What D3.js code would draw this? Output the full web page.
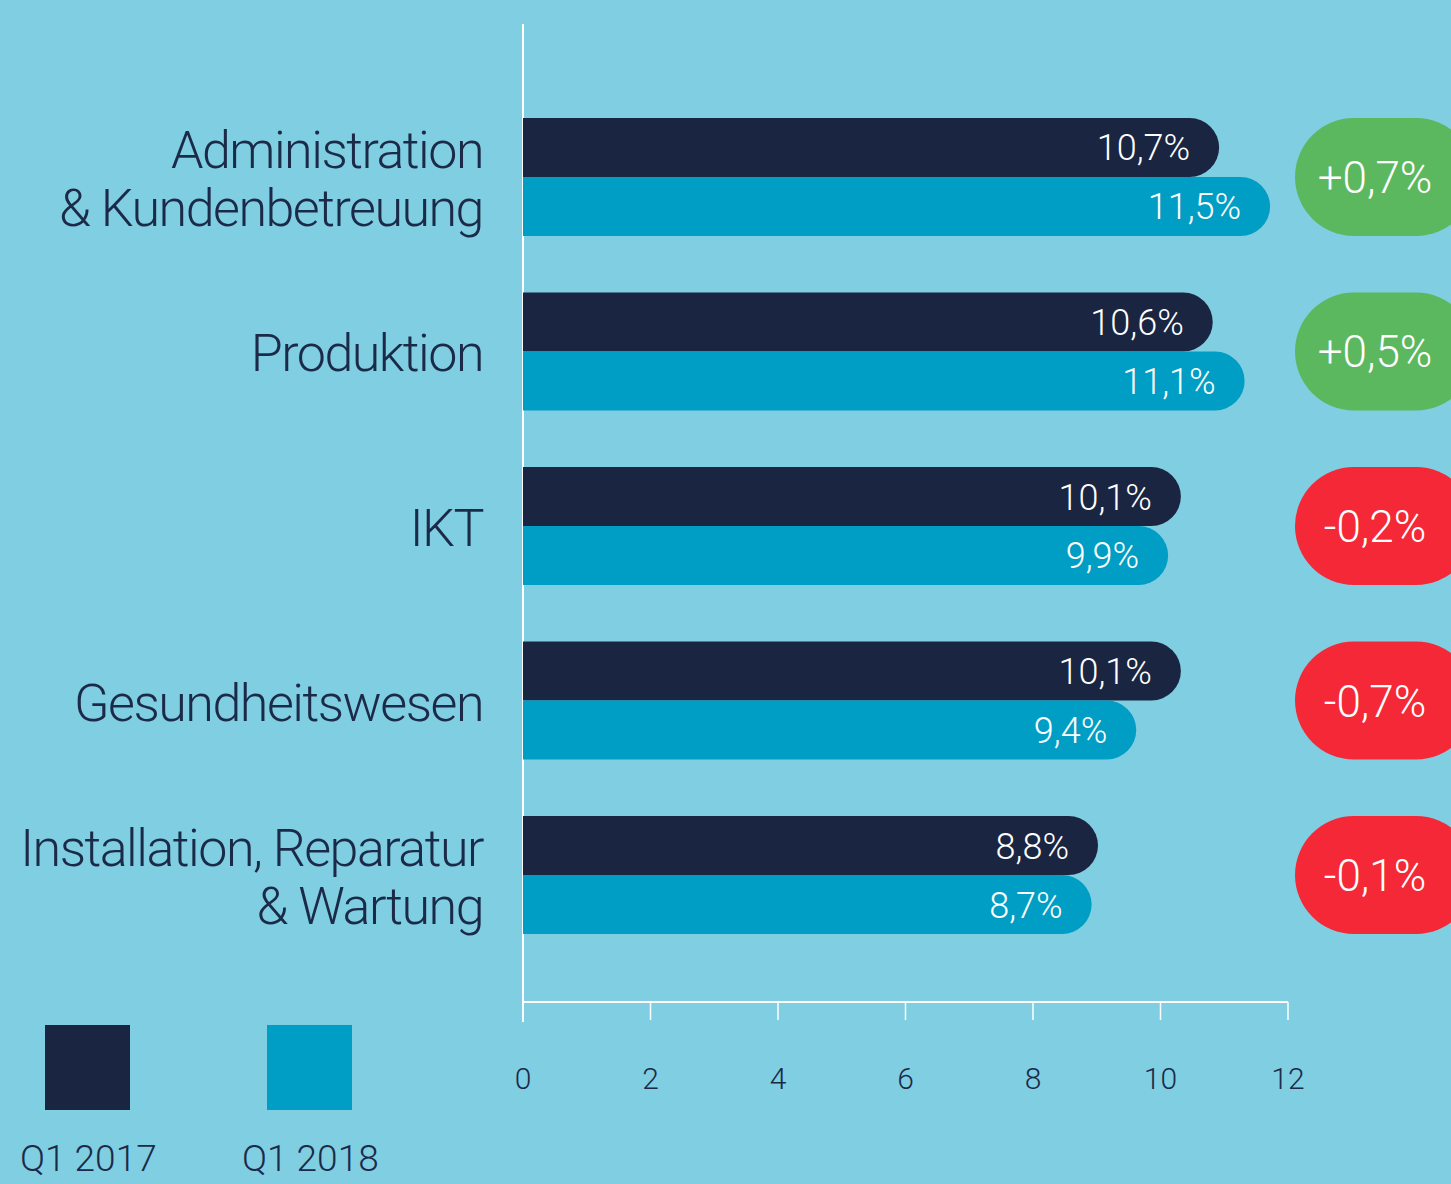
<!DOCTYPE html>
<html>
<head>
<meta charset="utf-8">
<script src="https://cdn.jsdelivr.net/npm/d3@7"></script>
<style>
  html, body { margin: 0; padding: 0; background: #80cee1; }
  svg { display: block; }
  text { font-family: Roboto, "Open Sans", sans-serif; }
</style>
</head>
<body>
<div id="chart"></div>
<script>
// data
const categories = [
  ["Administration", "& Kundenbetreuung"],
  ["Produktion"],
  ["IKT"],
  ["Gesundheitswesen"],
  ["Installation, Reparatur", "& Wartung"]
];
const values2017 = [10.7, 10.6, 10.1, 10.1, 8.8];
const values2018 = [11.5, 11.1, 9.9, 9.4, 8.7];
const changes = ["+0,7%", "+0,5%", "-0,2%", "-0,7%", "-0,1%"];
const seriesNames = ["Q1 2017", "Q1 2018"];
const ticks = [0, 2, 4, 6, 8, 10, 12];

const width = 1451, height = 1184;
const dark = "#1a2542", light = "#009ec4", textDark = "#1b2a48";
const green = "#5cb85f", red = "#f42837";

let svg = d3.select("#chart").append("svg")
    .attr("width", width)
    .attr("height", height);

svg.append("rect").attr("width", width).attr("height", height).attr("fill", "#80cee1");

let x = d3.scaleLinear().domain([0, 12]).range([523, 1288]);
let keys = categories.map((d, i) => i);
let y = d3.scaleBand().domain(keys).range([118, 934]).paddingInner(0.3238).paddingOuter(0);
let barH = y.bandwidth() / 2;
let capExtra = 14; // rounded end sticks out a bit past the value

// bar with a rounded right end
let barPath = (x0, x1, top, h) => {
  let r = h / 2;
  return `M${x0},${top}H${x1 - r}A${r},${r} 0 0 1 ${x1 - r},${top + h}H${x0}Z`;
};

// axis lines
svg.append("line")
    .attr("x1", x(0)).attr("x2", x(0))
    .attr("y1", 24).attr("y2", 1022)
    .attr("stroke", "white").attr("stroke-width", 2);

let axis = svg.append("g").attr("transform", "translate(0,1002)");
axis.append("line")
    .attr("x1", x(0)).attr("x2", x(12))
    .attr("stroke", "white").attr("stroke-width", 2);
axis.selectAll("line.tick")
    .data(ticks.slice(1))
    .enter().append("line")
    .attr("class", "tick")
    .attr("x1", d => x(d)).attr("x2", d => x(d))
    .attr("y1", 0).attr("y2", 18)
    .attr("stroke", "white").attr("stroke-width", 1.5);
axis.selectAll("text")
    .data(ticks)
    .enter().append("text")
    .attr("x", d => x(d))
    .attr("y", 87)
    .attr("text-anchor", "middle")
    .attr("fill", textDark)
    .attr("font-size", 30)
    .attr("font-weight", 300)
    .text(d => d);

// bars
let groups = svg.append("g").selectAll("g")
    .data(keys)
    .enter().append("g");

groups.append("path")
    .attr("fill", dark)
    .attr("d", i => barPath(x(0), x(values2017[i]) + capExtra, y(i), barH));
groups.append("path")
    .attr("fill", light)
    .attr("d", i => barPath(x(0), x(values2018[i]) + capExtra, y(i) + barH, barH));

let fmt = v => d3.format(".1f")(v).replace(".", ",") + "%";

groups.append("text")
    .attr("x", i => x(values2017[i]) + capExtra - 29)
    .attr("y", i => y(i) + barH / 2 + 13)
    .attr("text-anchor", "end")
    .attr("fill", "white")
    .attr("font-size", 36)
    .attr("font-weight", 300)
    .text(i => fmt(values2017[i]));
groups.append("text")
    .attr("x", i => x(values2018[i]) + capExtra - 29)
    .attr("y", i => y(i) + barH * 1.5 + 13)
    .attr("text-anchor", "end")
    .attr("fill", "white")
    .attr("font-size", 36)
    .attr("font-weight", 300)
    .text(i => fmt(values2018[i]));

// change badges
groups.append("rect")
    .attr("x", 1295)
    .attr("y", i => y(i))
    .attr("width", 180)
    .attr("height", y.bandwidth())
    .attr("rx", y.bandwidth() / 2)
    .attr("fill", i => changes[i].startsWith("+") ? green : red);
groups.append("text")
    .attr("x", 1375)
    .attr("y", i => y(i) + y.bandwidth() / 2 + 16)
    .attr("text-anchor", "middle")
    .attr("fill", "white")
    .attr("font-size", 44)
    .attr("font-weight", 300)
    .text(i => changes[i]);

// category labels
groups.append("text")
    .attr("text-anchor", "end")
    .attr("fill", textDark)
    .attr("font-size", 52)
    .attr("font-weight", 300)
    .attr("letter-spacing", -1.5)
    .each(function (i) {
      let lines = categories[i];
      let mid = y(i) + y.bandwidth() / 2;
      let first = mid + 20 - (lines.length - 1) * 29;
      d3.select(this).selectAll("tspan")
          .data(lines)
          .enter().append("tspan")
          .attr("x", 483)
          .attr("y", (d, k) => first + k * 58)
          .text(d => d);
    });

// legend
let legend = svg.append("g").selectAll("g")
    .data(seriesNames)
    .enter().append("g")
    .attr("transform", (d, i) => `translate(${45 + i * 222},1025)`);
legend.append("rect")
    .attr("width", 85).attr("height", 85)
    .attr("fill", (d, i) => i === 0 ? dark : light);
legend.append("text")
    .attr("x", -25)
    .attr("y", 146)
    .attr("fill", textDark)
    .attr("font-size", 37)
    .attr("font-weight", 300)
    .text(d => d);
</script>
</body>
</html>
